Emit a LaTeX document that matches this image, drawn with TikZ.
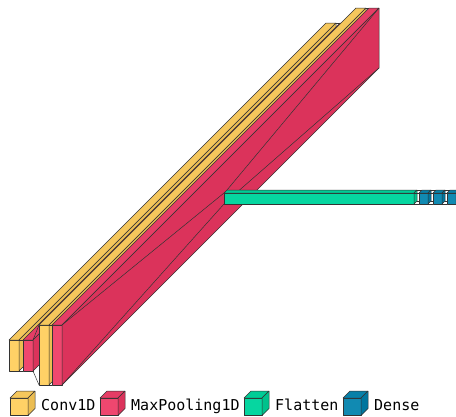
\documentclass[tikz,border=0pt]{standalone}
\usepackage{fontspec}
\usetikzlibrary{calc}
\newfontfamily\legendfont{DejaVu Sans Mono}

\definecolor{conv}{RGB}{255,209,102}
\definecolor{convtop}{RGB}{245,199,92}
\definecolor{convside}{RGB}{235,189,82}
\definecolor{pool}{RGB}{239,71,111}
\definecolor{pooltop}{RGB}{229,61,101}
\definecolor{poolside}{RGB}{219,51,91}
\definecolor{flat}{RGB}{6,214,160}
\definecolor{flattop}{RGB}{0,204,150}
\definecolor{flatside}{RGB}{0,194,140}
\definecolor{dense}{RGB}{17,138,178}
\definecolor{densetop}{RGB}{7,128,168}
\definecolor{denseside}{RGB}{0,118,158}

% corners of a box: name, x1, y1, x2, y2, depth
\newcommand{\layerat}[6]{
    \coordinate (#1-ftl) at (#2,#3);
    \coordinate (#1-ftr) at (#4,#3);
    \coordinate (#1-fbl) at (#2,#5);
    \coordinate (#1-fbr) at (#4,#5);
    \coordinate (#1-btl) at ($(#1-ftl)+(#6,-#6)$);
    \coordinate (#1-btr) at ($(#1-ftr)+(#6,-#6)$);
    \coordinate (#1-bbl) at ($(#1-fbl)+(#6,-#6)$);
    \coordinate (#1-bbr) at ($(#1-fbr)+(#6,-#6)$);
}
% faces of a box: name, colour
\newcommand{\drawlayer}[2]{
    \filldraw[boxline,fill=#2] (#1-ftl) rectangle (#1-fbr);
    \filldraw[boxline,fill=#2top] (#1-ftl) -- (#1-btl) -- (#1-btr) -- (#1-ftr) -- cycle;
    \filldraw[boxline,fill=#2side] (#1-ftr) -- (#1-btr) -- (#1-bbr) -- (#1-fbr) -- cycle;
}
% funnel between two boxes
\newcommand{\funnelto}[2]{
    \draw[boxline] (#1-btr) -- (#2-btl);
    \draw[boxline] (#1-bbr) -- (#2-bbl);
    \draw[boxline] (#1-fbr) -- (#2-fbl);
    \draw[boxline] (#1-ftr) -- (#2-ftl);
}

\begin{document}
\begin{tikzpicture}[x=1pt,y=-1pt,
    boxline/.style={draw=black!80,line width=0.5pt,line join=round},
    legend/.style={anchor=base west,inner sep=0,font=\legendfont\fontsize{15}{18}\selectfont}]
        \useasboundingbox (0,0) rectangle (456,416);
        % layers
        \layerat{convA}{9}{340}{19}{371}{317}
        \layerat{poolA}{23}{340}{33}{371}{317}
        \layerat{convB}{39}{325}{49}{385}{317}
        \layerat{poolB}{52}{325}{62}{385}{317}
        \layerat{flatA}{224}{193}{414}{204}{3}
        \layerat{denseA}{419}{193}{428}{204}{3}
        \layerat{denseB}{433}{193}{442}{204}{3}
        \layerat{denseC}{447}{193}{456}{204}{3}
        \drawlayer{convA}{conv}
        \funnelto{convA}{poolA}
        \drawlayer{poolA}{pool}
        \funnelto{poolA}{convB}
        \drawlayer{convB}{conv}
        \funnelto{convB}{poolB}
        \drawlayer{poolB}{pool}
        \funnelto{poolB}{flatA}
        \drawlayer{flatA}{flat}
        \funnelto{flatA}{denseA}
        \drawlayer{denseA}{dense}
        \funnelto{denseA}{denseB}
        \drawlayer{denseB}{dense}
        \funnelto{denseB}{denseC}
        \drawlayer{denseC}{dense}
        % legend
        \layerat{keyconv}{10}{398}{28}{415.5}{7}
        \drawlayer{keyconv}{conv}
        \node[legend] (lconv) at (41,410) {Conv1D};
        \layerat{keypool}{100}{398}{118}{415.5}{7}
        \drawlayer{keypool}{pool}
        \node[legend] (lpool) at (131,410) {MaxPooling1D};
        \layerat{keyflat}{244}{398}{262}{415.5}{7}
        \drawlayer{keyflat}{flat}
        \node[legend] (lflat) at (275,410) {Flatten};
        \layerat{keydense}{343}{398}{361}{415.5}{7}
        \drawlayer{keydense}{dense}
        \node[legend] (ldense) at (374,410) {Dense};
    \end{tikzpicture}
\end{document}
